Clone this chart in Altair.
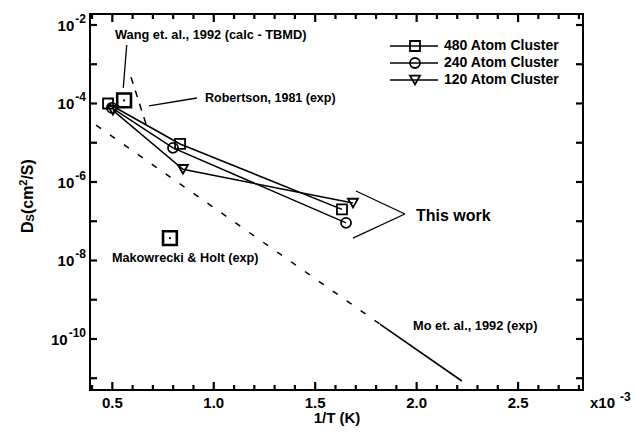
import altair as alt
import numpy as np
import pandas as pd

FONT = "Liberation Sans"
W, H = 493, 376

# Simulated surface diffusion for three cluster sizes
series_names = ["480 Atom Cluster", "240 Atom Cluster", "120 Atom Cluster"]
series_shapes = ["square", "circle", "triangle-down"]
inv_t_480 = [0.479, 0.834, 1.632]
ds_480 = [1.0e-4, 9.3e-6, 2.0e-7]
inv_t_240 = [0.498, 0.799, 1.652]
ds_240 = [7.7e-5, 7.4e-6, 9.1e-8]
inv_t_120 = [0.503, 0.848, 1.686]
ds_120 = [6.7e-5, 2.1e-6, 2.9e-7]

# Single literature values
ref_inv_t = [0.558, 0.784]
ref_ds = [1.2e-4, 3.7e-8]

# Literature Arrhenius lines
robertson_inv_t = [0.592, 0.671]
robertson_ds = [4.7e-4, 2.5e-5]
mo_dashed_inv_t = [0.42, 1.819]
mo_dashed_ds = [2.8e-5, 2.4e-10]
mo_solid_inv_t = [1.819, 2.223]
mo_solid_ds = [2.4e-10, 8.5e-12]

# Annotations
note_text = ["Wang et. al., 1992  (calc - TBMD)", "Robertson, 1981 (exp)",
             "Makowrecki & Holt (exp)", "Mo et. al., 1992 (exp)", "This work"]
note_inv_t = [0.513, 0.957, 0.498, 1.982, 1.997]
note_ds = [5.6e-3, 1.38e-4, 1.15e-8, 2.14e-10, 1.35e-7]
note_size = [12.8, 12.5, 12.7, 12.8, 16]

# Leader lines: start and end of each segment
lead_x1 = [0.571, 0.681, 1.701, 1.942]
lead_y1 = [3.1e-3, 8.7e-5, 5.9e-7, 1.53e-7]
lead_x2 = [0.554, 0.917, 1.942, 1.686]
lead_y2 = [2.5e-4, 1.38e-4, 1.53e-7, 3.7e-8]

# Axis ranges and ticks
X_MIN, X_MAX = 0.39, 2.82
LOG_Y_MIN, LOG_Y_MAX = -11.3, -1.72
x_major = [0.5, 1.0, 1.5, 2.0, 2.5]
x_labels = ["0.5", "1.0", "1.5", "2.0", "2.5"]
x_minor = [round(float(v), 1) for v in np.arange(0.4, 2.81, 0.1) if round(float(v), 1) not in x_major]
y_decades = list(range(-11, -1))
y_label_exps = [-10, -8, -6, -4, -2]

xs = alt.Scale(domain=[X_MIN, X_MAX], nice=False, zero=False)
ys = alt.Scale(type="log", domain=[10 ** LOG_Y_MIN, 10 ** LOG_Y_MAX], nice=False)
X_PER_PX = (X_MAX - X_MIN) / W
DEC_PER_PX = (LOG_Y_MAX - LOG_Y_MIN) / H


def X(field="x"):
    return alt.X(f"{field}:Q", scale=xs, axis=None)


def Y(field="y"):
    return alt.Y(f"{field}:Q", scale=ys, axis=None)


def PX(field):
    return alt.X(f"{field}:Q", scale=None, axis=None)


def PY(field):
    return alt.Y(f"{field}:Q", scale=None, axis=None)


# Series table
rows = []
for name, xv, yv in [(series_names[0], inv_t_480, ds_480),
                     (series_names[1], inv_t_240, ds_240),
                     (series_names[2], inv_t_120, ds_120)]:
    for a, b in zip(xv, yv):
        rows.append({"series": name, "x": a, "y": b})
sim = pd.DataFrame(rows)

shape_enc = alt.Shape("series:N", scale=alt.Scale(domain=series_names, range=series_shapes), legend=None)

sim_lines = alt.Chart(sim).mark_line(color="black", strokeWidth=1.5).encode(
    x=X(), y=Y(), detail="series:N", order="x:Q")
sim_points = alt.Chart(sim).mark_point(filled=False, color="black", strokeWidth=1.8, size=100, opacity=1).encode(
    x=X(), y=Y(), shape=shape_enc)

refs = pd.DataFrame({"x": ref_inv_t, "y": ref_ds})
ref_boxes = alt.Chart(refs).mark_point(shape="square", filled=False, color="black",
                                       strokeWidth=2.6, size=190, opacity=1).encode(x=X(), y=Y())
ref_dots = alt.Chart(refs).mark_point(shape="circle", filled=True, color="black",
                                      size=5, opacity=1).encode(x=X(), y=Y())

rob = pd.DataFrame({"x": robertson_inv_t, "y": robertson_ds})
rob_line = alt.Chart(rob).mark_line(color="black", strokeWidth=1.5, strokeDash=[7, 7]).encode(x=X(), y=Y())
mo_d = pd.DataFrame({"x": mo_dashed_inv_t, "y": mo_dashed_ds})
mo_dash_line = alt.Chart(mo_d).mark_line(color="black", strokeWidth=1.5, strokeDash=[6, 11]).encode(x=X(), y=Y())
mo_s = pd.DataFrame({"x": mo_solid_inv_t, "y": mo_solid_ds})
mo_solid_line = alt.Chart(mo_s).mark_line(color="black", strokeWidth=1.6).encode(x=X(), y=Y())

# Leader lines
leads = pd.DataFrame({"x": lead_x1, "y": lead_y1, "x2": lead_x2, "y2": lead_y2})
lead_rules = alt.Chart(leads).mark_rule(color="black", strokeWidth=1.3).encode(
    x=X(), y=Y(), x2="x2:Q", y2="y2:Q")

# Inward ticks on all four sides as short segments
tick_rows = []
for v in x_major + x_minor:
    ln = 8 if v in x_major else 5
    tick_rows.append({"x": v, "x2": v, "y": 10 ** LOG_Y_MIN, "y2": 10 ** (LOG_Y_MIN + ln * DEC_PER_PX)})
    tick_rows.append({"x": v, "x2": v, "y": 10 ** LOG_Y_MAX, "y2": 10 ** (LOG_Y_MAX - ln * DEC_PER_PX)})
for k in y_decades:
    tick_rows.append({"x": X_MIN, "x2": X_MIN + 7 * X_PER_PX, "y": 10.0 ** k, "y2": 10.0 ** k})
    tick_rows.append({"x": X_MAX, "x2": X_MAX - 7 * X_PER_PX, "y": 10.0 ** k, "y2": 10.0 ** k})
ticks = pd.DataFrame(tick_rows)
tick_rules = alt.Chart(ticks).mark_rule(color="#000000", strokeWidth=2.2, opacity=1).encode(
    x=X(), y=Y(), x2="x2:Q", y2="y2:Q")

notes = pd.DataFrame({"text": note_text, "x": note_inv_t, "y": note_ds, "size": note_size})
note_marks = alt.Chart(notes).mark_text(align="left", baseline="middle", font=FONT,
                                        fontWeight="bold", color="black").encode(
    x=X(), y=Y(), text="text:N", size=alt.Size("size:Q", scale=None))

# Legend built from the series names
leg = pd.DataFrame({"series": series_names})
leg["ly"] = [32 + 17 * i for i in range(len(series_names))]
leg["lx1"], leg["lx2"], leg["sx"], leg["tx"] = 300, 348, 325, 354
leg_lines = alt.Chart(leg).mark_rule(color="black", strokeWidth=1.3).encode(
    x=PX("lx1"), x2="lx2:Q", y=PY("ly"))
leg_pts = alt.Chart(leg).mark_point(filled=False, color="black", strokeWidth=1.8, size=100, opacity=1).encode(
    x=PX("sx"), y=PY("ly"), shape=shape_enc)
leg_text = alt.Chart(leg).mark_text(align="left", baseline="middle", font=FONT, fontWeight="bold",
                                    fontSize=14, color="black").encode(
    x=PX("tx"), y=PY("ly"), text="series:N")

# Tick labels
xl = pd.DataFrame({"x": x_major, "text": x_labels})
x_lab = alt.Chart(xl).mark_text(baseline="middle", font=FONT, fontWeight="bold", fontSize=15,
                                color="black").encode(x=X(), y=alt.value(H + 13), text="text:N")

yl = pd.DataFrame({"y": [10.0 ** k for k in y_label_exps], "exp": [str(k) for k in y_label_exps]})
yl["ex"] = -4.0
yl["bx"] = yl["ex"] - (4.0 + 6.7 * (yl["exp"].str.len() - 1)) - 1
y_exp = alt.Chart(yl).mark_text(align="right", baseline="middle", dy=-6, font=FONT, fontWeight="bold",
                                fontSize=12, color="black").encode(x=PX("ex"), y=Y(), text="exp:N")
y_base = alt.Chart(yl).mark_text(align="right", baseline="middle", dy=1, font=FONT, fontWeight="bold",
                                 fontSize=15, color="black").encode(x=PX("bx"), y=Y(), text=alt.value("10"))

# Axis titles pieced together for sub- and superscripts
ax_text = ["1/T (K)", "x10", "-3", "D", "S", "(cm", "2", "/S)"]
ax_px = [247, 500, 530, -57, -56, -57, -63, -57]
ax_py = [409, 394, 387, 219, 207.4, 200.1, 171.7, 165.6]
ax_size = [15, 15, 12, 16, 11, 16, 11, 16]
ax_angle = [0, 0, 0, 270, 270, 270, 270, 270]
ax_align = ["center", "left", "left", "left", "left", "left", "left", "left"]
ax = pd.DataFrame({"text": ax_text, "px": ax_px, "py": ax_py, "size": ax_size,
                   "angle": ax_angle, "al": ax_align})
ax_center = alt.Chart(ax[ax["al"] == "center"]).mark_text(
    align="center", baseline="alphabetic", font=FONT, fontWeight="bold", color="black").encode(
    x=PX("px"), y=PY("py"), text="text:N", size=alt.Size("size:Q", scale=None))
ax_left = alt.Chart(ax[ax["al"] == "left"]).mark_text(
    align="left", baseline="alphabetic", font=FONT, fontWeight="bold", color="black").encode(
    x=PX("px"), y=PY("py"), text="text:N", size=alt.Size("size:Q", scale=None),
    angle=alt.Angle("angle:Q", scale=None))

chart = alt.layer(
    tick_rules, lead_rules, mo_dash_line, mo_solid_line, rob_line,
    sim_lines, sim_points, ref_boxes, ref_dots, note_marks,
    leg_lines, leg_pts, leg_text,
    x_lab, y_exp, y_base,
    ax_center, ax_left,
).properties(
    width=W, height=H,
    padding={"left": 90, "top": 14, "right": 53, "bottom": 45},
    autosize=alt.AutoSizeParams(type="none"),
    background="white",
).configure_view(stroke="black", strokeWidth=2)

chart.save("out.html", embed_options={"renderer": "svg", "actions": False})
